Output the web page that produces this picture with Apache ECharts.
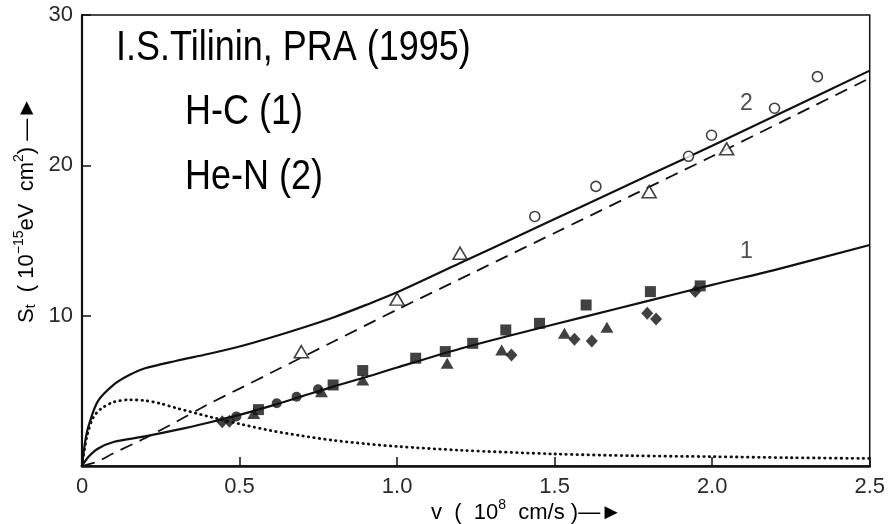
<!DOCTYPE html>
<html>
<head>
<meta charset="utf-8">
<script src="https://cdn.jsdelivr.net/npm/echarts@6/dist/echarts.min.js"></script>
<style>
html,body{margin:0;padding:0;background:#fff;}
#chart{width:888px;height:524px;}
</style>
</head>
<body>
<div id="chart"></div>
<script>
// ---- data ----
const xTickLabels = ['0', '0.5', '1.0', '1.5', '2.0', '2.5'];
const yTickLabels = ['', '10', '20', '30'];

// He-N (2) full theory curve (solid, upper)
const curveHeN = [[0,0],[0.01,1.6],[0.02,2.6],[0.05,4.3],[0.1,5.4],[0.15,6.05],[0.2,6.5],[0.3,7.0],[0.4,7.45],[0.5,7.95],[0.6,8.55],[0.7,9.2],[0.8,9.9],[0.9,10.7],[1.0,11.55],[1.2,13.5],[1.4,15.45],[1.6,17.4],[1.8,19.35],[2.0,21.3],[2.25,23.8],[2.5,26.3]];
// He-N linear (dashed) part
const dashedHeN = [[0,0],[0.05,0.3],[0.1,0.85],[0.2,1.85],[0.3,2.95],[0.4,4.1],[0.5,5.15],[0.6,6.2],[0.8,8.3],[1.0,10.4],[1.25,12.95],[1.5,15.5],[1.75,18.05],[2.0,20.6],[2.25,23.2],[2.5,25.8]];
// difference contribution (dotted)
const dottedHeN = [[0,0],[0.015,1.9],[0.035,3.2],[0.06,3.8],[0.1,4.25],[0.15,4.4],[0.2,4.35],[0.25,4.15],[0.3,3.85],[0.4,3.3],[0.5,2.8],[0.6,2.35],[0.7,2.0],[0.8,1.7],[0.9,1.48],[1.0,1.3],[1.2,1.05],[1.5,0.8],[1.75,0.68],[2.0,0.62],[2.25,0.55],[2.5,0.5]];
// H-C (1) theory curve (solid, lower)
const curveHC = [[0,0],[0.02,0.6],[0.05,1.15],[0.1,1.6],[0.2,1.97],[0.3,2.4],[0.4,2.88],[0.5,3.4],[0.6,4.0],[0.7,4.65],[0.8,5.3],[0.9,5.9],[1.0,6.55],[1.2,7.8],[1.4,8.9],[1.6,9.95],[1.8,11.0],[2.0,12.05],[2.2,13.05],[2.5,14.7]];

// H-C experimental points (filled)
const hcSquares = [[0.56,3.75],[0.797,5.39],[0.891,6.35],[1.059,7.17],[1.153,7.61],[1.24,8.16],[1.345,9.05],[1.452,9.49],[1.6,10.71],[1.804,11.6],[1.962,11.98]];
const hcCircles = [[0.49,3.3],[0.618,4.17],[0.681,4.61],[0.749,5.1]];
const hcTriangles = [[0.545,3.5],[0.76,4.94],[0.891,5.72],[1.159,6.83],[1.332,7.72],[1.531,8.83],[1.666,9.23]];
const hcDiamonds = [[0.445,2.95],[0.468,2.98],[1.363,7.39],[1.563,8.43],[1.618,8.32],[1.794,10.16],[1.822,9.78],[1.946,11.6]];

// He-N experimental points (open)
const henCircles = [[1.437,16.6],[1.631,18.6],[1.925,20.6],[1.998,22.0],[2.198,23.8],[2.334,25.9]];
const henTriangles = [[0.696,7.6],[1.0,11.1],[1.2,14.15],[1.8,18.25],[2.046,21.1]];

// curve labels
const curveLabels = [{name:'2', value:[2.109,24.13]}, {name:'1', value:[2.109,14.26]}];

// ---- chart ----
const ink = '#111';
const chart = echarts.init(document.getElementById('chart'), null, {renderer:'canvas'});

function lineSeries(data, width, lineType, smooth, cap) {
  return {
    type:'line', data:data, showSymbol:false, symbol:'none', smooth:smooth,
    lineStyle:{color:ink, width:width, type:lineType, cap:cap||'butt'}, z:3, silent:true
  };
}
function filled(data, symbol, size) {
  return {type:'scatter', data:data, symbol:symbol, symbolSize:size, itemStyle:{color:ink}, z:5, silent:true};
}
function open(data, symbol, size) {
  return {type:'scatter', data:data, symbol:symbol, symbolSize:size,
    itemStyle:{color:'#fff', borderColor:ink, borderWidth:1.6}, z:5, silent:true};
}

const rich = {
  n: {fontSize:22, fontFamily:'Liberation Sans', color:'#2a2a2a', lineHeight:26, verticalAlign:'bottom'},
  sup: {fontSize:14, fontFamily:'Liberation Sans', color:'#2a2a2a', lineHeight:16, verticalAlign:'top'},
  sub: {fontSize:14, fontFamily:'Liberation Sans', color:'#2a2a2a', lineHeight:16, verticalAlign:'bottom'}
};

const option = {
  animation:false,
  backgroundColor:'#fff',
  grid:{left:82, right:12, top:15, bottom:58, show:true, borderColor:ink, borderWidth:1.5, backgroundColor:'transparent'},
  xAxis:{
    type:'value', min:0, max:2.5, interval:0.5,
    axisLine:{show:true, lineStyle:{color:ink, width:2.5}},
    axisTick:{show:true, inside:true, length:9, lineStyle:{color:ink, width:1.5}},
    splitLine:{show:false},
    axisLabel:{margin:10, fontSize:22, fontFamily:'Liberation Sans', color:'#2a2a2a',
      formatter:function(v){return xTickLabels[Math.round(v/0.5)];}}
  },
  yAxis:{
    type:'value', min:0, max:30, interval:10,
    axisLine:{show:true, lineStyle:{color:ink, width:2.2}},
    axisTick:{show:true, inside:true, length:9, lineStyle:{color:ink, width:1.5}},
    splitLine:{show:false},
    axisLabel:{margin:9, fontSize:22, fontFamily:'Liberation Sans', color:'#2a2a2a', showMinLabel:false,
      formatter:function(v){return yTickLabels[Math.round(v/10)];}}
  },
  series:[
    lineSeries(curveHeN, 2.2, 'solid', 0.3),
    lineSeries(dashedHeN, 1.8, [13,8], 0.2),
    lineSeries(dottedHeN, 2.8, [0.5,5], 0.3, 'round'),
    lineSeries(curveHC, 2.2, 'solid', 0.3),
    filled(hcSquares, 'rect', 11),
    filled(hcCircles, 'circle', 10),
    filled(hcTriangles, 'triangle', [13,11]),
    filled(hcDiamonds, 'diamond', [12,13]),
    open(henCircles, 'circle', 10),
    open(henTriangles, 'triangle', [14,12]),
    {type:'scatter', data:curveLabels, symbolSize:1, itemStyle:{color:'rgba(0,0,0,0)'}, silent:true, z:6,
      label:{show:true, position:'inside', formatter:'{b}', fontSize:23, fontFamily:'Liberation Sans', color:'#222'}}
  ],
  graphic:[
    {type:'text', x:116, y:48, scaleY:1.16, style:{text:'I.S.Tilinin, PRA (1995)', x:0, y:0, fontSize:36, fontFamily:'Liberation Sans', fill:'#000', align:'left', verticalAlign:'middle'}},
    {type:'text', x:185, y:112, scaleY:1.16, style:{text:'H-C (1)', x:0, y:0, fontSize:36, fontFamily:'Liberation Sans', fill:'#000', align:'left', verticalAlign:'middle'}},
    {type:'text', x:185, y:177, scaleY:1.16, style:{text:'He-N (2)', x:0, y:0, fontSize:36, fontFamily:'Liberation Sans', fill:'#000', align:'left', verticalAlign:'middle'}},
    {type:'text', x:431, y:511, style:{text:'{n|v  (  10}{sup|8}{n|  cm/s )}{n|\u2014\u25BA}', rich:rich, x:0, y:0, align:'left', verticalAlign:'middle'}},
    {type:'text', x:25, y:210, rotation:Math.PI/2, style:{text:'{n|S}{sub|t}{n|  ( 10}{sup|\u221215}{n|eV  cm}{sup|2}{n|)}{n| \u2014\u25BA}', rich:rich, x:0, y:0, align:'center', verticalAlign:'middle'}}
  ]
};
chart.setOption(option);
</script>
</body>
</html>
